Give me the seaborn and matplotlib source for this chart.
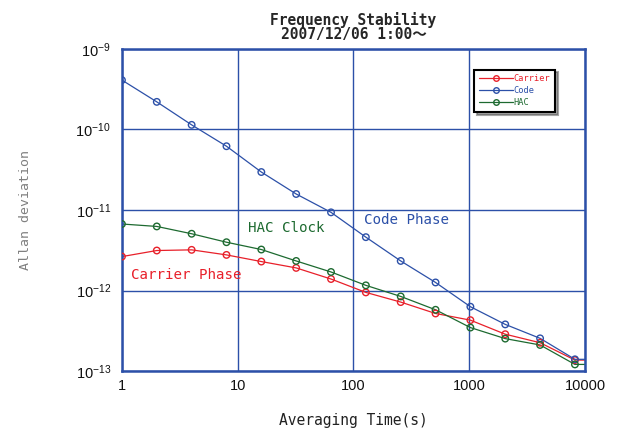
import numpy as np
import pandas as pd
import matplotlib
matplotlib.use("Agg")
import matplotlib.pyplot as plt
import seaborn as sns

tau = [1, 2, 4, 8, 16, 32, 64, 128, 256, 512, 1024, 2048, 4096, 8192, 10000]
carrier = [2.64e-12, 3.14e-12, 3.20e-12, 2.77e-12, 2.29e-12, 1.91e-12, 1.39e-12,
           9.48e-13, 7.19e-13, 5.19e-13, 4.29e-13, 2.87e-13, 2.25e-13, 1.37e-13, 1.37e-13]
code = [4.1e-10, 2.2e-10, 1.14e-10, 6.19e-11, 2.96e-11, 1.58e-11, 9.35e-12,
        4.6e-12, 2.33e-12, 1.26e-12, 6.3e-13, 3.8e-13, 2.55e-13, 1.40e-13, 1.40e-13]
hac = [6.7e-12, 6.25e-12, 5.07e-12, 3.98e-12, 3.23e-12, 2.33e-12, 1.70e-12,
       1.16e-12, 8.45e-13, 5.77e-13, 3.47e-13, 2.53e-13, 2.11e-13, 1.21e-13, 1.21e-13]
series_names = ["Carrier", "Code", "HAC"]
xticks = [1, 10, 100, 1000, 10000]
xtick_labels = ["1", "10", "100", "1000", "10000"]
yticks = [1e-13, 1e-12, 1e-11, 1e-10, 1e-9]
ytick_labels = [r"$10^{-13}$", r"$10^{-12}$", r"$10^{-11}$", r"$10^{-10}$", r"$10^{-9}$"]

sns.set_theme(style="white")
MONO = ['DejaVu Sans Mono', 'Noto Sans CJK JP']
plt.rcParams['font.family'] = MONO
plt.rcParams['mathtext.fontset'] = 'custom'
plt.rcParams['mathtext.rm'] = 'Liberation Sans'
plt.rcParams['mathtext.it'] = 'Liberation Sans'
plt.rcParams['mathtext.bf'] = 'Liberation Sans:bold'
plt.rcParams['mathtext.sf'] = 'Liberation Sans'

RED = "#e8202a"
BLUE = "#2c50a8"
GREEN = "#1d6a30"
GRID = "#2c50a8"

df = pd.DataFrame({"tau": tau * 3,
                   "adev": carrier + code + hac,
                   "series": sum([[n] * len(tau) for n in series_names], [])})

fig = plt.figure(figsize=(6.19, 4.29), dpi=100)
ax = fig.add_axes([0.197, 0.135, 0.748, 0.751])

palette = {"Carrier": RED, "Code": BLUE, "HAC": GREEN}
sns.lineplot(data=df, x="tau", y="adev", hue="series", palette=palette,
             ax=ax, lw=0.9, legend=False, estimator=None, sort=False)
nmark = len(tau) - 1
for name in series_names:
    sub = df[df.series == name].iloc[:nmark]
    sns.scatterplot(x=sub["tau"], y=sub["adev"], ax=ax, marker="o",
                    facecolor="none", edgecolor=palette[name], linewidth=1.0,
                    s=22, legend=False, zorder=5)

ax.set_xscale("log")
ax.set_yscale("log")
ax.set_xlim(1, 10000)
ax.set_ylim(1e-13, 1e-9)
ax.set_xticks(xticks)
ax.set_xticklabels(xtick_labels, fontsize=10.5, family=['Liberation Sans', 'DejaVu Sans'])
ax.set_yticks(yticks)
ax.set_yticklabels(ytick_labels, fontsize=10.5)
ax.minorticks_off()
ax.tick_params(axis="both", length=0, colors="#111111")
ax.tick_params(axis="y", pad=8)
ax.tick_params(axis="x", pad=6)
ax.grid(True, which="major", color=GRID, lw=1.0)
for sp in ax.spines.values():
    sp.set_color(GRID)
    sp.set_linewidth(1.8)

ax.set_xlabel("Averaging Time(s)", fontsize=10.5, color="#222222", labelpad=14)
ax.set_ylabel("Allan deviation", fontsize=9.5, color="#808080", labelpad=31)
ax.set_title("Frequency Stability\n2007/12/06 1:00〜", fontsize=10.5,
             fontweight="bold", linespacing=0.95, pad=7)

ax.text(12.2, 5.9e-12, "HAC Clock", color=GREEN, fontsize=10.2, va="center", ha="left")
ax.text(123, 7.5e-12, "Code Phase", color=BLUE, fontsize=10.2, va="center", ha="left")
ax.text(1.2, 1.54e-12, "Carrier Phase", color=RED, fontsize=10.2, va="center", ha="left")

handles = [plt.Line2D([], [], color=palette[n], lw=0.9, marker="o", mfc="none",
                      mec=palette[n], ms=4) for n in series_names]
leg = ax.legend(handles, series_names, loc="upper left", bbox_to_anchor=(0.76, 0.936),
                fontsize=6.2, frameon=True, fancybox=False, shadow=True,
                handlelength=4.0, handletextpad=0.05, borderpad=0.55,
                labelspacing=0.35, borderaxespad=0)
leg.get_frame().set_edgecolor("black")
leg.get_frame().set_linewidth(1.5)
for t, n in zip(leg.get_texts(), series_names):
    t.set_color(palette[n])

fig.savefig("out.png", dpi=100)
